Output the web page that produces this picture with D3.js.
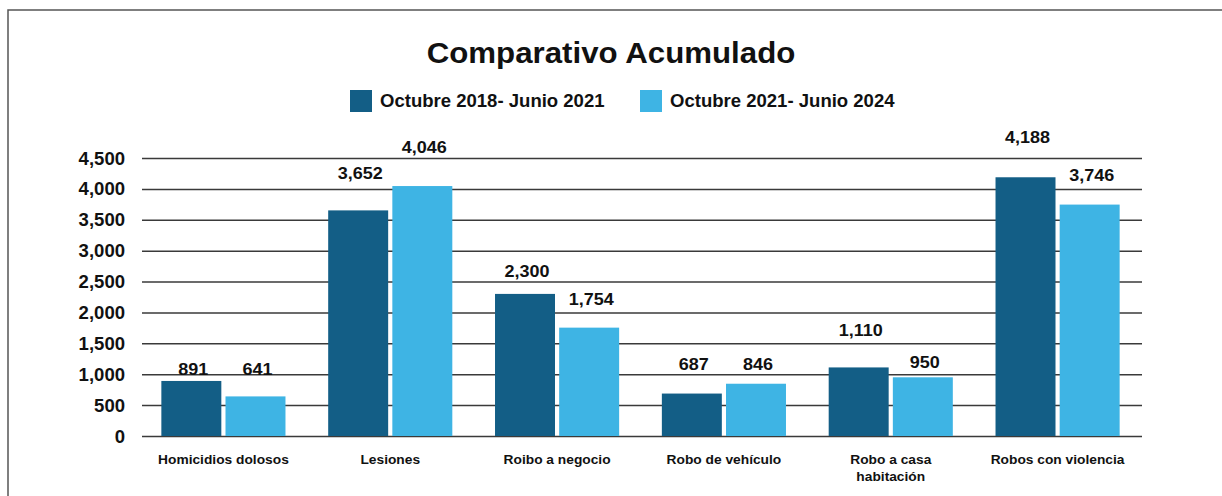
<!DOCTYPE html>
<html>
<head>
<meta charset="utf-8">
<script src="https://cdn.jsdelivr.net/npm/d3@7/dist/d3.min.js"></script>
<style>
  html, body { margin: 0; padding: 0; background: #fff; }
  svg text { font-family: 'Liberation Sans', Arial, Helvetica, sans-serif; font-weight: bold; fill: #111; }
</style>
</head>
<body>
<div id="chart"></div>
<script>
let categories = ['Homicidios dolosos', 'Lesiones', 'Roibo a negocio', 'Robo de vehículo', 'Robo a casa habitación', 'Robos con violencia']
let seriesNames = ['Octubre 2018- Junio 2021', 'Octubre 2021- Junio 2024']
let values2018 = [891, 3652, 2300, 687, 1110, 4188]
let values2021 = [641, 4046, 1754, 846, 950, 3746]
// where the value labels sit in the picture, in axis units
let labelLevels2018 = [1085, 4257, 2671, 1165, 1716, 4840]
let labelLevels2021 = [1085, 4678, 2218, 1165, 1198, 4225]
let yTicks = [0, 500, 1000, 1500, 2000, 2500, 3000, 3500, 4000, 4500]

let width = 1222
let height = 496
let darkColor = '#135e86'
let lightColor = '#3eb4e4'
let gridColor = '#3a3a3a'
let sx = 1.06 // source picture text is a bit wide

let svg = d3.select('#chart')
  .append('svg')
  .attr('width', width)
  .attr('height', height)

// frame
svg.append('path')
  .attr('d', 'M8,' + height + ' L8,10 L' + width + ',10')
  .attr('fill', 'none')
  .attr('stroke', '#555')
  .attr('stroke-width', 1.5)

function stretchText (g, x, y, txt, size, anchor) {
  return g.append('text')
    .attr('transform', 'translate(' + x + ',' + y + ') scale(' + sx + ',1)')
    .attr('text-anchor', anchor || 'middle')
    .style('font-size', size + 'px')
    .text(txt)
}

stretchText(svg, 611, 63, 'Comparativo Acumulado', 29.5)

// legend
let legendX = [350, 640]
let colors = [darkColor, lightColor]
seriesNames.forEach(function (name, i) {
  svg.append('rect')
    .attr('x', legendX[i])
    .attr('y', 90)
    .attr('width', 22)
    .attr('height', 22)
    .attr('fill', colors[i])
  stretchText(svg, legendX[i] + 30, 107, name, 17.5, 'start')
})

let x0 = d3.scaleBand()
  .domain(categories)
  .range([140, 1141])
  .paddingInner(0.256)
  .paddingOuter(0.128)

let x1 = d3.scaleBand()
  .domain(seriesNames)
  .range([0, x0.bandwidth()])
  .paddingInner(0.065)

let y = d3.scaleLinear()
  .domain([0, 4500])
  .range([436, 158])

// gridlines + y labels
let yAxis = svg.append('g')
  .attr('transform', 'translate(142,0)')
  .call(d3.axisLeft(y).tickValues(yTicks).tickSize(-1000).tickFormat(d3.format(',')))
yAxis.select('.domain').remove()
yAxis.selectAll('.tick line')
  .attr('stroke', gridColor)
  .attr('stroke-width', 1.5)
yAxis.selectAll('.tick text').remove()
yAxis.selectAll('.tick').each(function (d) {
  stretchText(d3.select(this), -17, 6, d3.format(',')(d), 17.5, 'end')
})

let rows = categories.map(function (c, i) {
  return [
    { cat: c, key: seriesNames[0], value: values2018[i], level: labelLevels2018[i], color: darkColor },
    { cat: c, key: seriesNames[1], value: values2021[i], level: labelLevels2021[i], color: lightColor }
  ]
})

let groups = svg.append('g')
  .selectAll('g.group')
  .data(rows)
  .enter()
  .append('g')
  .attr('class', 'group')
  .attr('transform', function (d) {
    return 'translate(' + x0(d[0].cat) + ',0)'
  })

groups.selectAll('rect')
  .data(function (d) { return d })
  .enter()
  .append('rect')
  .attr('x', function (d) { return x1(d.key) })
  .attr('y', function (d) { return y(d.value) })
  .attr('width', x1.bandwidth())
  .attr('height', function (d) { return y(0) - y(d.value) })
  .attr('fill', function (d) { return d.color })

groups.each(function (row) {
  let g = d3.select(this)
  row.forEach(function (d) {
    stretchText(g, x1(d.key) + x1.bandwidth() / 2 + 2, y(d.level) + 6, d3.format(',')(d.value), 17)
  })
})

// category labels, wrapped when too long
categories.forEach(function (c) {
  let words = c.split(' ')
  let lines = []
  let line = ''
  words.forEach(function (w) {
    let test = line ? line + ' ' + w : w
    if (test.length > 19 && line) {
      lines.push(line)
      line = w
    } else {
      line = test
    }
  })
  lines.push(line)
  let cx = x0(c) + x0.bandwidth() / 2
  lines.forEach(function (l, k) {
    stretchText(svg, cx, 464 + k * 17, l, 13)
  })
})
</script>
</body>
</html>
